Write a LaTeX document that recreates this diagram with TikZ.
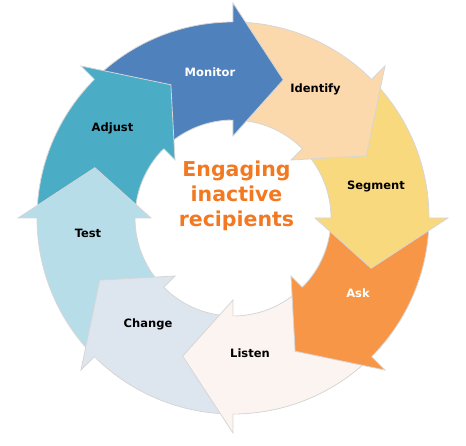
\documentclass[tikz,border=0pt]{standalone}
\usepackage{fontspec}
\setmainfont{DejaVu Sans}

\definecolor{monitorblue}{HTML}{4F81BD}
\definecolor{identifypeach}{HTML}{FBD9AD}
\definecolor{segmentyellow}{HTML}{F9D97E}
\definecolor{askorange}{HTML}{F79646}
\definecolor{listenpink}{HTML}{FCF4F1}
\definecolor{changegrey}{HTML}{DDE6EF}
\definecolor{testblue}{HTML}{B7DDE8}
\definecolor{adjustteal}{HTML}{4BACC6}
\definecolor{titleorange}{HTML}{F27922}

\begin{document}
\begin{tikzpicture}[x=1pt, y=1pt, font=\bfseries\fontsize{11.5}{14}\selectfont]
\tikzstyle{rim}=[draw=white!84!black, line width=0.8pt]
\tikzstyle{tag}=[inner sep=0pt, text height=8.4pt, text depth=0pt]
\tikzstyle{title}=[text=titleorange, align=center, inner sep=0pt, font=\bfseries\fontsize{20.5}{25}\selectfont]

\useasboundingbox (-233,-228) rectangle (233,218);

% ring pieces
\foreach \a/\c in {90/monitorblue, 45/identifypeach, 0/segmentyellow, -45/askorange,
                   -90/listenpink, -135/changegrey, -180/testblue, 135/adjustteal}
{
  \fill[\c] (\a:196) arc[start angle=\a, end angle=\a+45, radius=196]
    -- (\a+45:98) arc[start angle=\a+45, end angle=\a, radius=98] -- cycle;
  \draw[rim] (\a:196) arc[start angle=\a, end angle=\a+45, radius=196];
  \draw[rim] (\a:98) arc[start angle=\a, end angle=\a+45, radius=98];
}

% heads (with a thin strip of body so no seam shows)
\foreach \a/\c in {90/monitorblue, 45/identifypeach, 0/segmentyellow, -45/askorange,
                   -90/listenpink, -135/changegrey, -180/testblue, 135/adjustteal}
{
  \fill[\c] (\a+1.5:195.5) -- (\a:195.5) -- (\a:215) -- (\a-20:147) -- (\a:82)
    -- (\a:98.5) -- (\a+1.5:98.5) -- cycle;
  \draw[rim] (\a:196) -- (\a:215) -- (\a-20:147) -- (\a:82) -- (\a:98);
}

\foreach \x/\y/\t/\col in {-23/146/Monitor/white, 82.5/129.5/Identify/black,
                           143/33/Segment/black, 125/-75/Ask/white,
                           17/-135/Listen/black, -85/-105/Change/black,
                           -145/-15/Test/black, -120.5/91/Adjust/black}
  \node[tag, text=\col] (\t) at (\x,\y) {\t};

\node[title] (centre) at (3.5,22.6) {Engaging\\inactive\\recipients};

\end{tikzpicture}
\end{document}
